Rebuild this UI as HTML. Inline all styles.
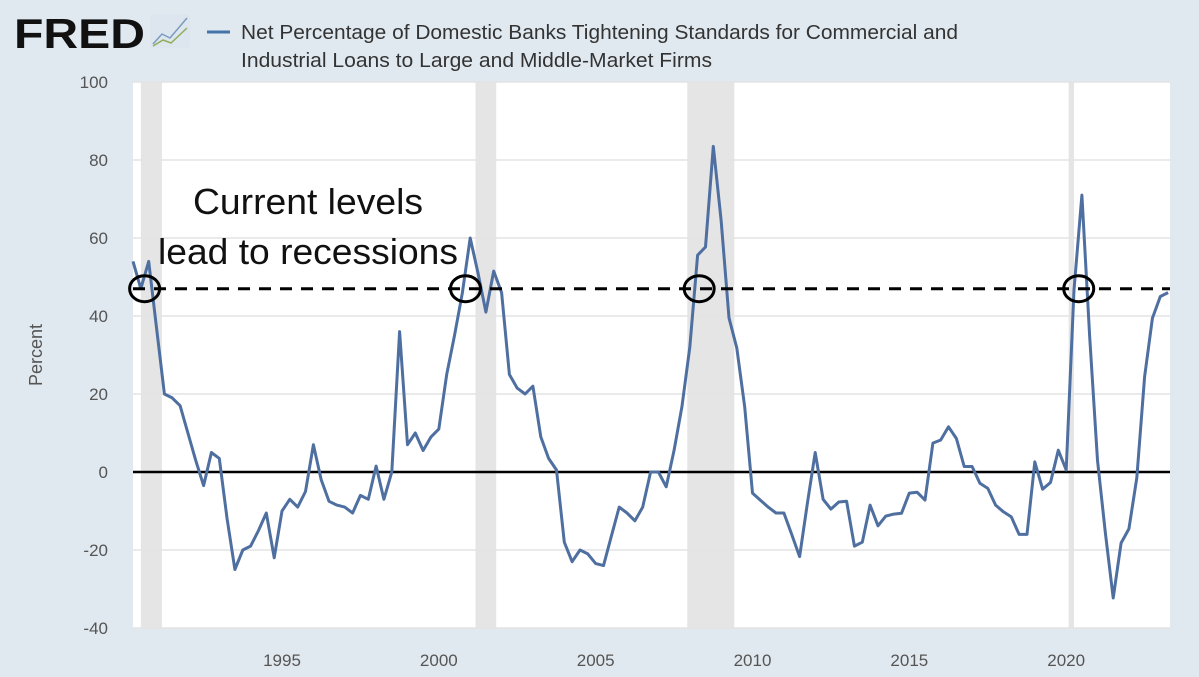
<!DOCTYPE html>
<html><head><meta charset="utf-8">
<style>
body{margin:0;background:#e1e9f0;font-family:"Liberation Sans",sans-serif;}
svg{display:block}
</style></head>
<body>
<svg id="c" width="1199" height="677" xmlns="http://www.w3.org/2000/svg">
<rect x="0" y="0" width="1199" height="677" fill="#e1e9f0"/>
<g>
<text x="14" y="48" font-size="42" font-weight="bold" fill="#111" textLength="131" lengthAdjust="spacingAndGlyphs" font-family="Liberation Sans, sans-serif">FRED</text>
<rect x="150" y="14" width="40" height="34" rx="3" fill="#dde6ee"/>
<polyline points="153,44 162,34 170,38 187,18" fill="none" stroke="#7a9bbf" stroke-width="1.5"/>
<polyline points="153,46 163,40 171,43 187,28" fill="none" stroke="#8fae5a" stroke-width="1.5"/>
</g>
<line x1="207" y1="32" x2="230" y2="32" stroke="#4572a7" stroke-width="3"/>
<text font-size="20" fill="#333"><tspan x="241" y="39" textLength="717" lengthAdjust="spacingAndGlyphs">Net Percentage of Domestic Banks Tightening Standards for Commercial and</tspan><tspan x="241" y="67" textLength="471" lengthAdjust="spacingAndGlyphs">Industrial Loans to Large and Middle-Market Firms</tspan></text>
<rect x="133" y="82" width="1037" height="546" fill="#fff"/>
<g id="rec"></g><g id="grid"></g><g id="yt"></g><g id="xt"></g>
<text transform="translate(42,355) rotate(-90)" text-anchor="middle" font-size="18" fill="#555">Percent</text>
<line id="zero" stroke="#000" stroke-width="2.5"/>
<path id="series" fill="none" stroke="#4e6fa0" stroke-width="3" stroke-linejoin="round"/>
<line id="thresh" stroke="#000" stroke-width="3" stroke-dasharray="12,9"/>
<g id="circ"></g>
<text font-size="36" fill="#111" text-anchor="middle"><tspan x="308" y="214" textLength="230" lengthAdjust="spacingAndGlyphs">Current levels</tspan><tspan x="308" y="264" textLength="300" lengthAdjust="spacingAndGlyphs">lead to recessions</tspan></text>
</svg>
<script>
const startYear = 1990.25;
const values = [54,47,54,37,20,19,17,10,3,-3.5,5,3.5,-12,-25,-20,-19,-15,-10.5,-22,-10,-7,-9,-5,7,-2,-7.5,-8.5,-9,-10.5,-6,-7,1.5,-7,0,36,7,10,5.5,9,11,25,35,46,60,51,41,51.5,46,25,21.5,20,22,9,3.5,0.5,-18,-23,-20,-21,-23.5,-24,-16.5,-9,-10.5,-12.5,-9,0,0,-3.8,5.6,16.7,32,55.6,57.7,83.5,64.6,39.5,31.8,16.7,-5.4,-7.2,-9,-10.5,-10.5,-16,-21.7,-8,5,-7,-9.5,-7.7,-7.5,-19,-18,-8.5,-13.8,-11.3,-10.8,-10.6,-5.4,-5.2,-7.2,7.4,8.2,11.6,8.6,1.4,1.4,-2.9,-4.2,-8.5,-10.2,-11.5,-16,-16,2.6,-4.4,-2.7,5.6,0.5,46.7,71,34.6,3,-15.7,-32.3,-18.2,-14.6,-1.5,24.4,39.4,45,46];
const recessions = [[1990.5,1991.17],[2001.17,2001.83],[2007.92,2009.42],[2020.08,2020.25]];
const yTicks = [100,80,60,40,20,0,-20,-40];
const xTicks = [1995,2000,2005,2010,2015,2020];
const threshold = 47;
const crossings = [1990.62,2000.85,2008.3,2020.4];
const X0=133,X1=1170,Y0=82,Y1=628, T0=1990.25,T1=2023.31, V0=-40,V1=100;
const x=t=>X0+(t-T0)/(T1-T0)*(X1-X0);
const y=v=>Y1-(v-V0)/(V1-V0)*(Y1-Y0);
const NS='http://www.w3.org/2000/svg';
function mk(tag,attrs,parent){const e=document.createElementNS(NS,tag);for(const k in attrs)e.setAttribute(k,attrs[k]);document.getElementById(parent).appendChild(e);return e;}
recessions.forEach(r=>{const e=mk('rect',{x:x(r[0]),y:Y0,width:x(r[1])-x(r[0]),height:Y1-Y0,fill:'#e5e5e5'},'rec');

});
yTicks.forEach(v=>{const g=mk('line',{x1:X0,x2:X1,y1:y(v),y2:y(v),stroke:'#e3e3e3','stroke-width':1.5},'grid');


const t=mk('text',{x:108,y:y(v)+6,'text-anchor':'end','font-size':17,fill:'#555'},'yt');t.textContent=v;

});
xTicks.forEach(v=>{const t=mk('text',{x:x(v),y:666,'text-anchor':'middle','font-size':17,fill:'#555'},'xt');t.textContent=v;

});
const z=document.getElementById('zero');z.setAttribute('x1',X0);z.setAttribute('x2',X1);z.setAttribute('y1',y(0));z.setAttribute('y2',y(0));
document.getElementById('series').setAttribute('d',values.map((v,i)=>(i?'L':'M')+x(startYear+i*0.25).toFixed(1)+','+y(v).toFixed(1)).join(''));
const th=document.getElementById('thresh');th.setAttribute('x1',X0);th.setAttribute('x2',X1);th.setAttribute('y1',y(threshold));th.setAttribute('y2',y(threshold));
crossings.forEach(c=>{const e=mk('ellipse',{cx:x(c),cy:y(threshold),rx:15,ry:13,fill:'none',stroke:'#000','stroke-width':3},'circ');

});
</script>
</body></html>
